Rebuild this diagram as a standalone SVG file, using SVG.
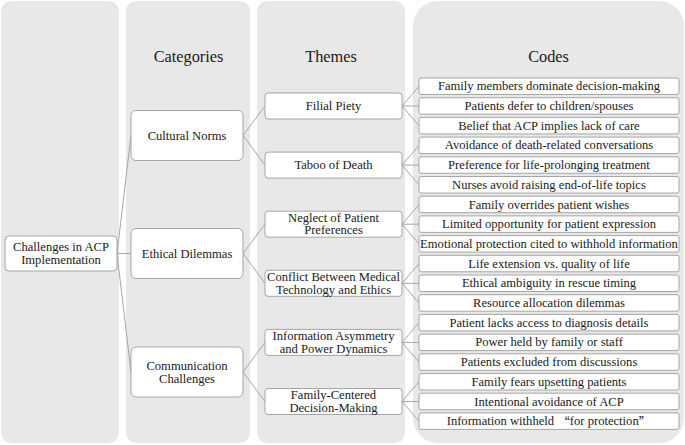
<svg xmlns="http://www.w3.org/2000/svg" width="685" height="445" viewBox="0 0 685 445">
<style>
.panel{fill:#e8e8e8;}
.box{fill:#ffffff;stroke:#a6a6a6;stroke-width:1;}
.t{font-family:'Liberation Serif','DejaVu Serif',serif;font-size:12.6px;fill:#1a1a1a;text-anchor:middle;dominant-baseline:central;}
.h{font-family:'Liberation Serif','DejaVu Serif',serif;font-size:16.3px;fill:#1a1a1a;text-anchor:middle;}
.c{stroke:#a6a6a6;stroke-width:1;fill:none;}
</style>
<rect width="685" height="445" fill="#ffffff"/>
<g id="panels">
<rect class="panel" x="1" y="1" width="118" height="442" rx="10"/>
<rect class="panel" x="126" y="1" width="124" height="442" rx="10"/>
<rect class="panel" x="257" y="1" width="148" height="442" rx="10"/>
<rect class="panel" x="413" y="1" width="271" height="442" rx="25"/>
<text class="h" x="188.5" y="62">Categories</text>
<text class="h" x="331" y="62">Themes</text>
<text class="h" x="548.5" y="62">Codes</text>
</g>
<g id="connectors">
<path class="c" d="M117 253.5L131 135.5M117 253.5L131 253.5M117 253.5L131 372"/>
<path class="c" d="M243 135.5L265 106M243 135.5L265 165.1M243 253.5L265 224.2M243 253.5L265 283.3M243 372L265 342.4M243 372L265 401.5"/>
<path class="c" d="M402 106L419 86.3M402 106L419 106M402 106L419 125.7"/>
<path class="c" d="M402 165.1L419 145.4M402 165.1L419 165.1M402 165.1L419 184.8"/>
<path class="c" d="M402 224.2L419 204.5M402 224.2L419 224.2M402 224.2L419 243.9"/>
<path class="c" d="M402 283.3L419 263.6M402 283.3L419 283.3M402 283.3L419 303"/>
<path class="c" d="M402 342.4L419 322.7M402 342.4L419 342.4M402 342.4L419 362.1"/>
<path class="c" d="M402 401.5L419 381.8M402 401.5L419 401.5M402 401.5L419 421.2"/>
</g>
<g id="root">
<rect class="box" x="5" y="236" width="112" height="35" rx="4"/>
<text class="t" x="61" y="247">Challenges in ACP</text>
<text class="t" x="61" y="260">Implementation</text>
</g>
<g id="cat-cultural">
<rect class="box" x="131" y="110.5" width="112" height="50" rx="5"/>
<text class="t" x="187" y="135.5">Cultural Norms</text>
</g>
<g id="cat-ethical">
<rect class="box" x="131" y="228.5" width="112" height="50" rx="5"/>
<text class="t" x="187" y="253.5">Ethical Dilemmas</text>
</g>
<g id="cat-communication">
<rect class="box" x="131" y="347" width="112" height="50" rx="5"/>
<text class="t" x="187" y="365.5">Communication</text>
<text class="t" x="187" y="378.5">Challenges</text>
</g>
<g id="theme-filial">
<rect class="box" x="265" y="93" width="137" height="26" rx="3"/>
<text class="t" x="333.5" y="106">Filial Piety</text>
</g>
<g id="theme-taboo">
<rect class="box" x="265" y="152.1" width="137" height="26" rx="3"/>
<text class="t" x="333.5" y="165.1">Taboo of Death</text>
</g>
<g id="theme-neglect">
<rect class="box" x="265" y="211.2" width="137" height="26" rx="3"/>
<text class="t" x="333.5" y="218">Neglect of Patient</text>
<text class="t" x="333.5" y="230.4">Preferences</text>
</g>
<g id="theme-conflict">
<rect class="box" x="265" y="270.3" width="137" height="26" rx="3"/>
<text class="t" x="333.5" y="277.1">Conflict Between Medical</text>
<text class="t" x="333.5" y="289.5">Technology and Ethics</text>
</g>
<g id="theme-info">
<rect class="box" x="265" y="329.4" width="137" height="26" rx="3"/>
<text class="t" x="333.5" y="336.2">Information Asymmetry</text>
<text class="t" x="333.5" y="348.6">and Power Dynamics</text>
</g>
<g id="theme-family">
<rect class="box" x="265" y="388.5" width="137" height="26" rx="3"/>
<text class="t" x="333.5" y="395.3">Family-Centered</text>
<text class="t" x="333.5" y="407.7">Decision-Making</text>
</g>
<g id="code-1"><rect class="box" x="419" y="78" width="260" height="16.5" rx="2"/><text class="t" x="549" y="86.3">Family members dominate decision-making</text></g>
<g id="code-2"><rect class="box" x="419" y="97.7" width="260" height="16.5" rx="2"/><text class="t" x="549" y="106">Patients defer to children/spouses</text></g>
<g id="code-3"><rect class="box" x="419" y="117.4" width="260" height="16.5" rx="2"/><text class="t" x="549" y="125.7">Belief that ACP implies lack of care</text></g>
<g id="code-4"><rect class="box" x="419" y="137.1" width="260" height="16.5" rx="2"/><text class="t" x="549" y="145.4">Avoidance of death-related conversations</text></g>
<g id="code-5"><rect class="box" x="419" y="156.8" width="260" height="16.5" rx="2"/><text class="t" x="549" y="165.1">Preference for life-prolonging treatment</text></g>
<g id="code-6"><rect class="box" x="419" y="176.5" width="260" height="16.5" rx="2"/><text class="t" x="549" y="184.8">Nurses avoid raising end-of-life topics</text></g>
<g id="code-7"><rect class="box" x="419" y="196.2" width="260" height="16.5" rx="2"/><text class="t" x="549" y="204.5">Family overrides patient wishes</text></g>
<g id="code-8"><rect class="box" x="419" y="215.9" width="260" height="16.5" rx="2"/><text class="t" x="549" y="224.2">Limited opportunity for patient expression</text></g>
<g id="code-9"><rect class="box" x="419" y="235.6" width="260" height="16.5" rx="2"/><text class="t" x="549" y="243.9">Emotional protection cited to withhold information</text></g>
<g id="code-10"><rect class="box" x="419" y="255.3" width="260" height="16.5" rx="2"/><text class="t" x="549" y="263.6">Life extension vs. quality of life</text></g>
<g id="code-11"><rect class="box" x="419" y="275" width="260" height="16.5" rx="2"/><text class="t" x="549" y="283.3">Ethical ambiguity in rescue timing</text></g>
<g id="code-12"><rect class="box" x="419" y="294.7" width="260" height="16.5" rx="2"/><text class="t" x="549" y="303">Resource allocation dilemmas</text></g>
<g id="code-13"><rect class="box" x="419" y="314.4" width="260" height="16.5" rx="2"/><text class="t" x="549" y="322.7">Patient lacks access to diagnosis details</text></g>
<g id="code-14"><rect class="box" x="419" y="334.1" width="260" height="16.5" rx="2"/><text class="t" x="549" y="342.4">Power held by family or staff</text></g>
<g id="code-15"><rect class="box" x="419" y="353.8" width="260" height="16.5" rx="2"/><text class="t" x="549" y="362.1">Patients excluded from discussions</text></g>
<g id="code-16"><rect class="box" x="419" y="373.5" width="260" height="16.5" rx="2"/><text class="t" x="549" y="381.8">Family fears upsetting patients</text></g>
<g id="code-17"><rect class="box" x="419" y="393.2" width="260" height="16.5" rx="2"/><text class="t" x="549" y="401.5">Intentional avoidance of ACP</text></g>
<g id="code-18"><rect class="box" x="419" y="412.9" width="260" height="16.5" rx="2"/><text class="t" x="549" y="421.2">Information withheld <tspan font-family="'Noto Sans CJK SC',sans-serif">“</tspan>for protection<tspan font-family="'Noto Sans CJK SC',sans-serif">”</tspan></text></g>
</svg>
